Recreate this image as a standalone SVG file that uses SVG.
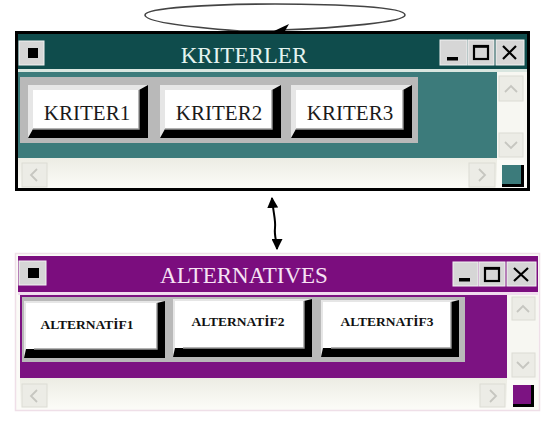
<svg xmlns="http://www.w3.org/2000/svg" width="547" height="425" viewBox="0 0 547 425">
  <style>
    .title { font-family: "Liberation Serif", "DejaVu Serif", serif; font-size: 23px; text-anchor: middle; }
    .btn-k { font-family: "Liberation Serif", "DejaVu Serif", serif; font-size: 21px; fill: #1a1a1a; text-anchor: middle; }
    .btn-a { font-family: "Liberation Serif", "DejaVu Serif", serif; font-size: 13.5px; font-weight: bold; fill: #111; text-anchor: middle; }
    .tbtn { fill: #d6d6d6; stroke: #f2f2f2; stroke-width: 1; }
    .glyph { fill: none; stroke: #000; stroke-width: 2.2; }
    .sbtn { fill: #ecece6; stroke: #dcdcd4; stroke-width: 1; }
    .chev { fill: none; stroke: #c6c6c0; stroke-width: 1.8; }
    .face { fill: #fff; }
    .light { fill: #e6e6e6; }
    .dark { fill: #000; }
    .edge { fill: none; stroke: #9a9a9a; stroke-width: 1.4; }
    .conn { fill: none; stroke: #000; stroke-width: 2; }
  </style>
  <defs>
    <linearGradient id="hscroll" x1="0" y1="0" x2="0" y2="1">
      <stop offset="0" stop-color="#ecece4"/>
      <stop offset="1" stop-color="#fbfbf7"/>
    </linearGradient>
    <marker id="head" viewBox="0 0 10 10" refX="9" refY="5" markerWidth="5.5" markerHeight="5.5" orient="auto-start-reverse">
      <path d="M0,0 L10,5 L0,10 z" fill="#000"/>
    </marker>
  </defs>

  <rect width="547" height="425" fill="#fff"/>

  <!-- connectors -->
  <g id="connectors">
    <!-- self loop above the criteria window -->
    <path d="M280,30 C340,28 405,22 405,15 C405,7 340,4 275,4 C210,4 145,8 145,15 C145,23 200,28 240,31 L276,31" fill="none" stroke="#444" stroke-width="1.6"/>
    <polygon points="274,31 289,24 285,31" fill="#000"/>
    <!-- link between the two windows -->
    <path class="conn" d="M272,198 C273,212 276,220 275,228 C274,236 277,242 277,249" marker-start="url(#head)" marker-end="url(#head)"/>
  </g>

  <!-- criteria window -->
  <g id="kriterler">
    <rect x="16.5" y="32.5" width="512" height="157" fill="#fbfbf7" stroke="#000" stroke-width="3"/>
    <rect x="18" y="34" width="509" height="35" fill="#0f4c4c"/>
    <rect x="18" y="69" width="509" height="3" fill="#d9e6e0"/>
    <!-- system menu button -->
    <rect x="19" y="41" width="25" height="24" class="tbtn"/>
    <rect x="28" y="48" width="10" height="10" fill="#000"/>
    <text x="244" y="63" class="title" fill="#e4f4f0">KRITERLER</text>
    <!-- caption buttons -->
    <rect x="440" y="40" width="27" height="25" class="tbtn"/>
    <rect x="447" y="57" width="11" height="3.5" fill="#000"/>
    <rect x="468" y="40" width="26" height="25" class="tbtn"/>
    <rect x="474" y="46" width="14" height="13" class="glyph"/>
    <line x1="474" y1="46.8" x2="488" y2="46.8" stroke="#000" stroke-width="2"/>
    <rect x="496" y="40" width="28" height="25" class="tbtn"/>
    <path class="glyph" d="M503,46 L516,59 M516,46 L503,59" stroke-width="2.5"/>
    <!-- client area -->
    <rect x="18" y="72" width="479" height="86" fill="#3c7b7b"/>
    <rect x="20" y="77" width="398" height="66" fill="#b9b9b9"/>
    <!-- vertical scrollbar -->
    <rect x="497" y="72" width="30" height="88" fill="#f7f7f2"/>
    <rect x="499" y="76" width="24" height="25" class="sbtn"/>
    <path class="chev" d="M505,92 L511,86 L517,92"/>
    <rect x="499" y="133" width="24" height="24" class="sbtn"/>
    <path class="chev" d="M505,142 L511,148 L517,142"/>
    <!-- horizontal scrollbar -->
    <rect x="18" y="158" width="479" height="30" fill="url(#hscroll)"/>
    <rect x="22" y="163" width="25" height="24" class="sbtn"/>
    <path class="chev" d="M37,169 L31,175 L37,181"/>
    <rect x="469" y="163" width="26" height="24" class="sbtn"/>
    <path class="chev" d="M479,169 L485,175 L479,181"/>
    <!-- size grip -->
    <rect x="502" y="165" width="22" height="22" fill="#000"/>
    <rect x="502" y="165" width="19" height="19" fill="#3c7b7b"/>
  </g>

  <!-- criteria buttons -->
  <g id="kriter1">
    <rect x="28" y="85" width="120" height="53" class="dark"/>
    <polygon points="28,85 148,85 139,90 33,90 33,129 28,138" class="light"/>
    <rect x="33" y="90" width="106" height="39" class="face"/>
    <path class="edge" d="M139,90 L139,129 L33,129"/>
    <text x="87" y="120" class="btn-k">KRITER1</text>
  </g>
  <g id="kriter2">
    <rect x="160" y="85" width="121" height="53" class="dark"/>
    <polygon points="160,85 281,85 272,90 165,90 165,129 160,138" class="light"/>
    <rect x="165" y="90" width="107" height="39" class="face"/>
    <path class="edge" d="M272,90 L272,129 L165,129"/>
    <text x="219" y="120" class="btn-k">KRITER2</text>
  </g>
  <g id="kriter3">
    <rect x="291" y="85" width="121" height="53" class="dark"/>
    <polygon points="291,85 412,85 403,90 296,90 296,129 291,138" class="light"/>
    <rect x="296" y="90" width="107" height="39" class="face"/>
    <path class="edge" d="M403,90 L403,129 L296,129"/>
    <text x="350" y="120" class="btn-k">KRITER3</text>
  </g>

  <!-- alternatives window -->
  <g id="alternatives">
    <rect x="15.5" y="253.5" width="524" height="157" fill="#fbfbf7" stroke="#efdfe8" stroke-width="1.5"/>
    <rect x="18" y="256" width="520" height="36" fill="#7b0d7e"/>
    <rect x="18" y="292" width="520" height="3" fill="#f1dcef"/>
    <rect x="19" y="261" width="27" height="24" class="tbtn"/>
    <rect x="28" y="268" width="11" height="10" fill="#000"/>
    <text x="244" y="283" class="title" fill="#f7e2f4">ALTERNATIVES</text>
    <rect x="453" y="262" width="25" height="24" class="tbtn"/>
    <rect x="459" y="278" width="11" height="3.5" fill="#000"/>
    <rect x="479" y="262" width="26" height="24" class="tbtn"/>
    <rect x="485" y="268" width="14" height="13" class="glyph"/>
    <line x1="485" y1="268.8" x2="499" y2="268.8" stroke="#000" stroke-width="2"/>
    <rect x="507" y="262" width="29" height="24" class="tbtn"/>
    <path class="glyph" d="M514,268 L528,281 M528,268 L514,281" stroke-width="2.5"/>
    <rect x="20" y="295" width="487" height="83" fill="#7c1382"/>
    <rect x="22" y="297" width="443" height="65" fill="#b9b9b9"/>
    <rect x="507" y="295" width="31" height="85" fill="#f7f7f2"/>
    <rect x="512" y="297" width="23" height="23" class="sbtn"/>
    <path class="chev" d="M517,312 L523,306 L529,312"/>
    <rect x="512" y="353" width="23" height="24" class="sbtn"/>
    <path class="chev" d="M517,362 L523,368 L529,362"/>
    <rect x="20" y="378" width="487" height="30" fill="url(#hscroll)"/>
    <rect x="22" y="384" width="25" height="23" class="sbtn"/>
    <path class="chev" d="M37,390 L31,396 L37,402"/>
    <rect x="480" y="384" width="25" height="23" class="sbtn"/>
    <path class="chev" d="M490,390 L496,396 L490,402"/>
    <rect x="513" y="385" width="21" height="22" fill="#000"/>
    <rect x="513" y="385" width="18" height="19" fill="#7c1382"/>
  </g>

  <!-- alternative buttons -->
  <g id="alternatif1">
    <rect x="24" y="301" width="141" height="57" class="dark"/>
    <polygon points="24,301 165,301 157,303 26,303 26,349 24,358" class="light"/>
    <rect x="26" y="303" width="131" height="46" class="face"/>
    <path class="edge" d="M157,303 L157,349 L34,349"/>
    <text x="87" y="329" class="btn-a">ALTERNATİF1</text>
  </g>
  <g id="alternatif2">
    <rect x="173" y="299" width="139" height="58" class="dark"/>
    <polygon points="173,299 312,299 304,301 175,301 175,348 173,357" class="light"/>
    <rect x="175" y="301" width="129" height="47" class="face"/>
    <path class="edge" d="M304,301 L304,348 L183,348"/>
    <text x="238" y="326" class="btn-a">ALTERNATİF2</text>
  </g>
  <g id="alternatif3">
    <rect x="321" y="300" width="138" height="57" class="dark"/>
    <polygon points="321,300 459,300 451,302 323,302 323,348 321,357" class="light"/>
    <rect x="323" y="302" width="128" height="46" class="face"/>
    <path class="edge" d="M451,302 L451,348 L331,348"/>
    <text x="387" y="326" class="btn-a">ALTERNATİF3</text>
  </g>
</svg>
